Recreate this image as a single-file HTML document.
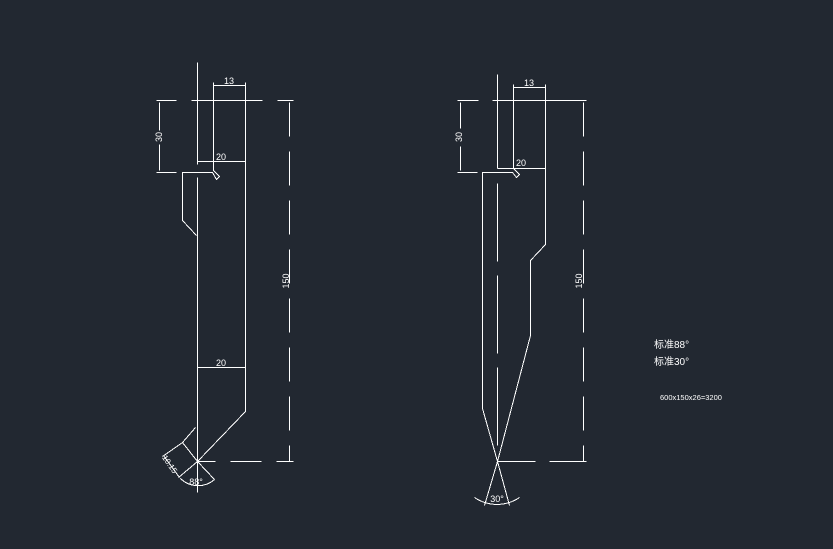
<!DOCTYPE html>
<html><head><meta charset="utf-8"><style>
html,body{margin:0;padding:0;background:#222831;}
svg{display:block}
text{fill:#fff;font-family:"Liberation Sans","Noto Sans CJK SC",sans-serif;}
</style></head><body>
<svg width="833" height="549" viewBox="0 0 833 549" xmlns="http://www.w3.org/2000/svg">
<rect width="833" height="549" fill="#222831"/>
<g stroke="#fff" stroke-width="1" fill="none" shape-rendering="crispEdges" transform="translate(0.5,0.5)">
<!-- LEFT FIGURE -->
<line x1="197" y1="62" x2="197" y2="164"/>
<line x1="197" y1="177" x2="197" y2="492"/>
<line x1="213" y1="82" x2="213" y2="170"/>
<line x1="245" y1="82" x2="245" y2="411"/>
<line x1="156" y1="100" x2="176" y2="100"/>
<line x1="191" y1="100" x2="262" y2="100"/>
<line x1="277" y1="100" x2="293" y2="100"/>
<line x1="213" y1="85" x2="245" y2="85"/>
<line x1="159" y1="102" x2="159" y2="130"/>
<line x1="159" y1="144" x2="159" y2="170"/>
<line x1="156" y1="172" x2="176" y2="172"/>
<line x1="197" y1="161" x2="245" y2="161"/>
<polyline points="213,170 219,176 216,179 212,172 182,172 182,220 196,235"/>
<line x1="197" y1="367" x2="245" y2="367"/>
<line x1="245" y1="411" x2="197" y2="461"/>
<polyline points="195,427 182,442 197,461"/>
<line x1="182" y1="442" x2="162" y2="456"/>
<line x1="197" y1="461" x2="178" y2="477"/>
<line x1="163" y1="455" x2="179" y2="477"/>
<line x1="197" y1="461" x2="214" y2="479"/>
<path d="M180,478 A25,25 0 0 0 214,479"/>
<line x1="197" y1="461" x2="215" y2="461"/>
<line x1="230" y1="461" x2="261" y2="461"/>
<line x1="276" y1="461" x2="293" y2="461"/>
<line x1="289" y1="102" x2="289" y2="461" stroke-dasharray="34 15"/>
<!-- RIGHT FIGURE -->
<line x1="497" y1="74" x2="497" y2="168"/>
<line x1="497" y1="183" x2="497" y2="461" stroke-dasharray="78 14"/>
<line x1="513" y1="84" x2="513" y2="168"/>
<polyline points="545,84 545,244 530,260 530,335 497,461 484,505"/>
<polyline points="513,168 519,174 516,177 512,172 482,172 482,408 497,461 509,505"/>
<line x1="457" y1="100" x2="478" y2="100"/>
<line x1="492" y1="100" x2="586" y2="100"/>
<line x1="513" y1="87" x2="545" y2="87"/>
<line x1="460" y1="102" x2="460" y2="128"/>
<line x1="460" y1="146" x2="460" y2="170"/>
<line x1="457" y1="172" x2="477" y2="172"/>
<line x1="497" y1="168" x2="545" y2="168"/>
<line x1="583" y1="102" x2="583" y2="461" stroke-dasharray="34 15"/>
<line x1="497" y1="461" x2="535" y2="461"/>
<line x1="549" y1="461" x2="586" y2="461"/>
<path d="M474,497 A40,40 0 0 0 519,497"/>
</g>
<g font-size="9">
<text x="229" y="84" text-anchor="middle">13</text>
<text x="221" y="160" text-anchor="middle">20</text>
<text x="221" y="366" text-anchor="middle">20</text>
<text x="196" y="485" text-anchor="middle">88°</text>
<text transform="translate(159,137) rotate(-90)" text-anchor="middle" dy="3">30</text>
<text transform="translate(286,281) rotate(-90)" text-anchor="middle" dy="3">150</text>
<text transform="translate(170,464) rotate(55)" text-anchor="middle" dy="3" font-size="8">10.15</text>
<text x="529" y="86" text-anchor="middle">13</text>
<text x="521" y="166" text-anchor="middle">20</text>
<text transform="translate(459,137) rotate(-90)" text-anchor="middle" dy="3">30</text>
<text transform="translate(579,281) rotate(-90)" text-anchor="middle" dy="3">150</text>
<text x="497" y="502" text-anchor="middle">30°</text>
<text x="654" y="348" font-size="10">标准88°</text>
<text x="654" y="365" font-size="10">标准30°</text>
<text x="660" y="400" font-size="7.5">600x150x26=3200</text>
</g>
</svg>
</body></html>
